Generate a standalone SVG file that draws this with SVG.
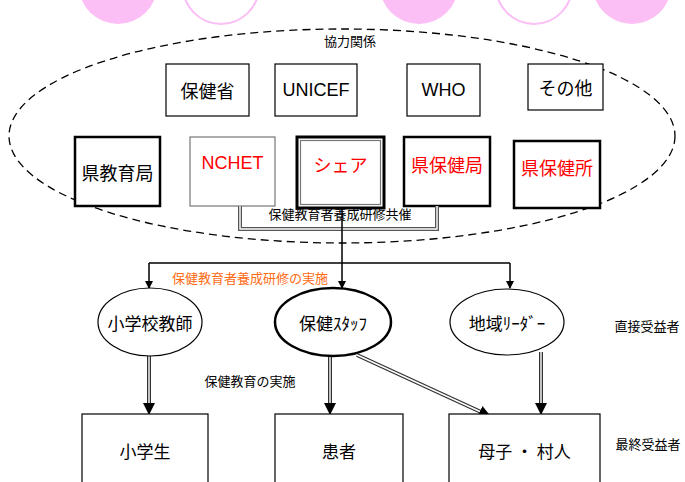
<svg xmlns="http://www.w3.org/2000/svg" width="685" height="482" viewBox="0 0 685 482">
<style>
.jp{font-family:"Noto Sans CJK JP","Liberation Sans",sans-serif;}
.lat{font-family:"Liberation Sans","Noto Sans CJK JP",sans-serif;}
.box{fill:#fff;stroke:#000;stroke-width:1.2;}
.thick{fill:#fff;stroke:#000;stroke-width:2.5;}
.lbl{font-size:17px;text-anchor:middle;dominant-baseline:central;}
.big{font-size:18px;}
.sm{font-size:13px;text-anchor:middle;dominant-baseline:central;}
.red{fill:#ff0000;}
.pinkf{fill:#fcbff5;stroke:none;}
.pinko{fill:#fff;stroke:#fcbff5;stroke-width:2;}
.dbl-o{fill:none;stroke:#333;stroke-width:4;}
.dbl-i{fill:none;stroke:#fff;stroke-width:1.4;}
.brk-o{fill:none;stroke:#555;stroke-width:4;}
.ln{fill:none;stroke:#000;stroke-width:1.5;}
</style>
<defs>
<marker id="ah" markerWidth="8" markerHeight="8" refX="7" refY="4" orient="auto" markerUnits="userSpaceOnUse">
<path d="M0,0 L8,4 L0,8 z" fill="#000"/>
</marker>
<marker id="ah2" markerWidth="12" markerHeight="12" refX="11" refY="6" orient="auto" markerUnits="userSpaceOnUse">
<path d="M0,0 L12,6 L0,12 z" fill="#000"/>
</marker>
</defs>
<rect width="685" height="482" fill="#fff"/>
<g id="decor">
<ellipse class="pinkf" cx="118" cy="-14" rx="39" ry="38"/>
<ellipse class="pinko" cx="221" cy="-14" rx="38" ry="38"/>
<ellipse class="pinkf" cx="419" cy="-14" rx="39" ry="38"/>
<ellipse class="pinko" cx="534" cy="-14" rx="38" ry="38"/>
<ellipse class="pinkf" cx="632" cy="-14" rx="39" ry="38"/>
</g>
<g id="cooperation">
<ellipse cx="342" cy="136" rx="333" ry="107" fill="none" stroke="#000" stroke-width="1.3" stroke-dasharray="8 5"/>
<text class="jp sm" x="350" y="40" font-size="12">協力関係</text>
</g>
<g id="n-hokensho"><rect class="box" x="166" y="64" width="83" height="52"/><text class="jp lbl big" x="207.5" y="90">保健省</text></g>
<g id="n-unicef"><rect class="box" x="275" y="64" width="82" height="52"/><text class="lat lbl big" x="316" y="90">UNICEF</text></g>
<g id="n-who"><rect class="box" x="407" y="64" width="73" height="52"/><text class="lat lbl big" x="443.5" y="90">WHO</text></g>
<g id="n-sonota"><rect class="box" x="528" y="64" width="75" height="46"/><text class="jp lbl big" x="565.5" y="87">その他</text></g>
<g id="n-kenkyoikukyoku"><rect class="thick" x="75" y="137" width="85" height="69"/><text class="jp lbl big" x="117.5" y="171.5">県教育局</text></g>
<g id="n-nchet"><rect x="190" y="137" width="85" height="69" fill="#fff" stroke="#777" stroke-width="1.2"/><text class="lat lbl big red" x="232.5" y="163">NCHET</text></g>
<g id="n-share"><rect x="297" y="137" width="87" height="71" fill="#fff" stroke="#000" stroke-width="3"/><rect x="300.5" y="140.5" width="80" height="64" fill="none" stroke="#777" stroke-width="1.2"/><text class="jp lbl big red" x="340.5" y="164">シェア</text></g>
<g id="n-kenhokenkyoku"><rect class="thick" x="404" y="137" width="86" height="69" fill="#fff"/><text class="jp lbl big red" x="447" y="164">県保健局</text></g>
<g id="n-kenhokensho"><rect class="thick" x="514" y="141" width="86" height="67" fill="#fff"/><text class="jp lbl big red" x="557" y="167">県保健所</text></g>
<g id="connectors">
<path class="brk-o" d="M240,206 V229 H437 V206"/>
<path class="dbl-i" d="M240,206 V229 H437 V206"/>
<path class="ln" d="M342,208 V263"/>
<path class="ln" d="M149,263 H510"/>
<path class="ln" d="M149,263 V288" marker-end="url(#ah)"/>
<path class="ln" d="M342,263 V288" marker-end="url(#ah)"/>
<path class="ln" d="M510,263 V288" marker-end="url(#ah)"/>
<path class="dbl-o" d="M149,356 V405"/><path class="dbl-i" d="M149,356 V405"/>
<path d="M149,402 V414" stroke="none" fill="none" marker-end="url(#ah2)"/>
<path class="dbl-o" d="M330,356 V405"/><path class="dbl-i" d="M330,356 V405"/>
<path d="M330,402 V414" stroke="none" fill="none" marker-end="url(#ah2)"/>
<path class="dbl-o" d="M541,352 V405"/><path class="dbl-i" d="M541,352 V405"/>
<path d="M541,402 V414" stroke="none" fill="none" marker-end="url(#ah2)"/>
<path class="dbl-o" d="M357,355 L481,412"/><path class="dbl-i" d="M357,355 L481,412"/>
<path d="M478,410.6 L490,416" stroke="none" fill="none" marker-end="url(#ah2)"/>
</g>
<g id="labels">
<text class="jp sm" x="340" y="213" font-size="14">保健教育者養成研修共催</text>
<text class="jp sm" x="250" y="277" font-size="14" fill="#ff6a13">保健教育者養成研修の実施</text>
<text class="jp sm" x="250" y="380">保健教育の実施</text>
<text class="jp sm" x="647" y="325">直接受益者</text>
<text class="jp sm" x="648" y="443">最終受益者</text>
</g>
<g id="n-shogakkokyoshi"><ellipse cx="150" cy="322" rx="52" ry="34" fill="#fff" stroke="#000" stroke-width="1.2"/><text class="jp lbl" x="150" y="322">小学校教師</text></g>
<g id="n-hokenstaff"><ellipse cx="333" cy="322" rx="58" ry="34" fill="#fff" stroke="#000" stroke-width="2.5"/><text class="jp lbl" x="333" y="322">保健ｽﾀｯﾌ</text></g>
<g id="n-chiikileader"><ellipse cx="507" cy="322" rx="57" ry="33" fill="#fff" stroke="#000" stroke-width="1.2"/><text class="jp lbl" x="507" y="322">地域ﾘｰﾀﾞｰ</text></g>
<g id="n-shogakusei"><rect class="box" x="82" y="414" width="126" height="80"/><text class="jp lbl" x="145" y="450">小学生</text></g>
<g id="n-kanja"><rect class="box" x="275" y="414" width="128" height="80"/><text class="jp lbl" x="339" y="450">患者</text></g>
<g id="n-boshi"><rect class="box" x="449" y="414" width="151" height="80"/><text class="jp lbl" x="524.5" y="450">母子 ・ 村人</text></g>
</svg>
